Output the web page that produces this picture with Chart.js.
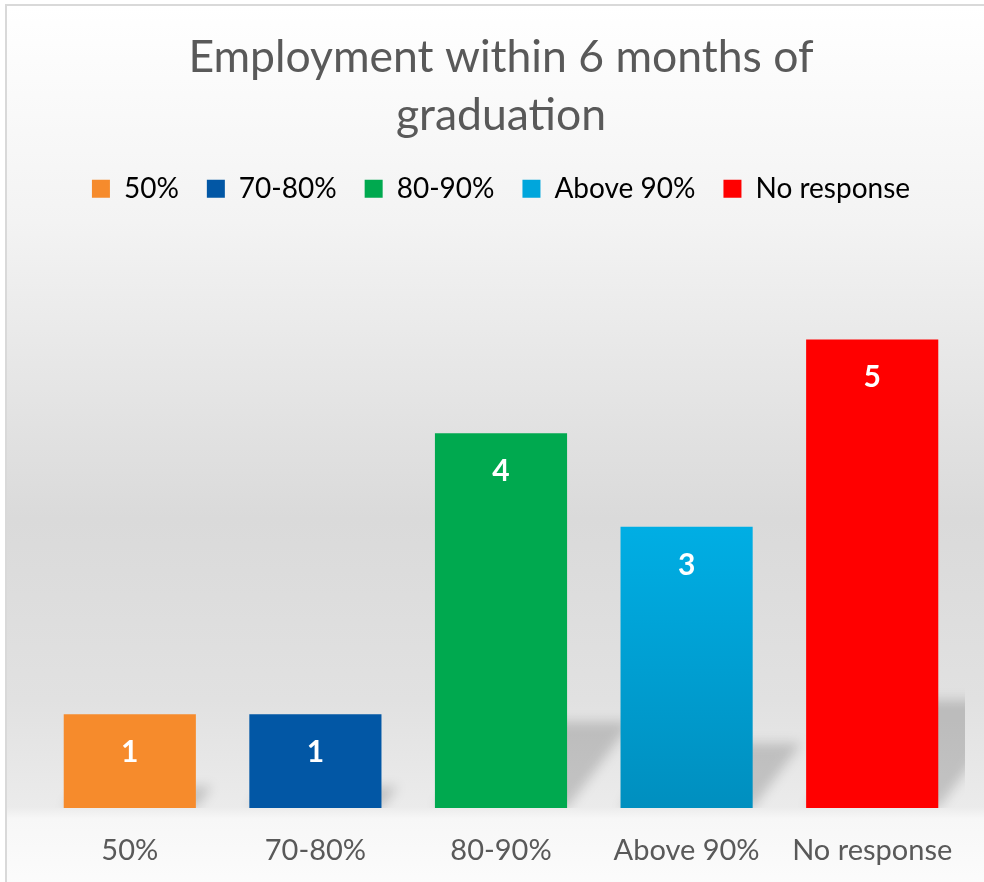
<!DOCTYPE html>
<html>
<head>
<meta charset="utf-8">
<script src="https://cdn.jsdelivr.net/npm/chart.js@4/dist/chart.umd.min.js"></script>
<style>
  html, body { margin: 0; padding: 0; background: #ffffff; }
  #frame {
    position: absolute; left: 5px; top: 4px; width: 1000px; height: 900px;
    border-left: 2px solid #d9d9d9; border-top: 2px solid #d9d9d9;
    background: linear-gradient(to bottom, #ffffff 0%, #f3f3f3 24%, #dadada 57%, #e1e1e1 77%, #ebebeb 89%, #f7f7f7 90.3%, #fdfdfd 100%);
  }
  #wrap { position: absolute; left: 0; top: 0; width: 984px; height: 882px; }
</style>
</head>
<body>
<div id="frame"></div>
<div id="wrap"><canvas id="chart" width="984" height="882"></canvas></div>
<script>
var categories = ["50%", "70-80%", "80-90%", "Above 90%", "No response"];
var counts = [1, 1, 4, 3, 5];
var barColors = ["#f68b2c", "#0257a5", "#00a94f", "#00a6dc", "#ff0000"];
var titleLines = ["Employment within 6 months of", "graduation"];

var FONT = "Lato, 'Open Sans', sans-serif";
var GREY = "#595959";

// Excel-style perspective shadow behind each bar
var shadowPlugin = {
  id: "barShadow",
  beforeDatasetsDraw: function (chart) {
    var ctx = chart.ctx;
    var area = chart.chartArea;
    var bars = chart.getDatasetMeta(0).data;
    ctx.save();
    ctx.beginPath();
    ctx.rect(area.left, area.top, area.right - area.left, area.bottom - area.top);
    ctx.clip();
    ctx.filter = "blur(6px)";
    ctx.fillStyle = "rgba(0,0,0,0.17)";
    bars.forEach(function (b) {
      var p = b.getProps(["x", "y", "base", "width"], true);
      var h = p.base - p.y;
      var sh = h * 0.23;
      var dx = sh * 0.75;
      var l = p.x - p.width / 2, r = p.x + p.width / 2;
      ctx.beginPath();
      ctx.moveTo(l, p.base);
      ctx.lineTo(r, p.base);
      ctx.lineTo(r + dx, p.base - sh);
      ctx.lineTo(l + dx, p.base - sh);
      ctx.closePath();
      ctx.fill();
    });
    ctx.restore();
  },
};

var valueLabels = {
  id: "valueLabels",
  afterDatasetsDraw: function (chart) {
    var ctx = chart.ctx;
    var bars = chart.getDatasetMeta(0).data;
    ctx.save();
    ctx.fillStyle = "#ffffff";
    ctx.font = "bold 30px " + FONT;
    ctx.textAlign = "center";
    ctx.textBaseline = "middle";
    bars.forEach(function (b, i) {
      ctx.fillText(String(counts[i]), b.x, b.y + 38);
    });
    ctx.restore();
  },
};

var legendGap = {
  id: "legendGap",
  beforeInit: function (chart) {
    var fit = chart.legend.fit;
    chart.legend.fit = function () {
      fit.bind(chart.legend)();
      this.height += 33;
    };
  },
};

function barFill(c) {
  var i = c.dataIndex;
  if (i !== 3 || !c.chart.chartArea) return barColors[i];
  var y = c.chart.scales.y;
  var g = c.chart.ctx.createLinearGradient(0, y.getPixelForValue(counts[i]), 0, y.getPixelForValue(0));
  g.addColorStop(0, "#00aee4");
  g.addColorStop(1, "#008fbf");
  return g;
}

new Chart(document.getElementById("chart").getContext("2d"), {
  type: "bar",
  data: {
    labels: categories,
    datasets: [
      {
        data: counts,
        backgroundColor: barFill,
        borderWidth: 0,
        barPercentage: 0.712,
        categoryPercentage: 1,
      },
    ],
  },
  options: {
    responsive: false,
    animation: false,
    devicePixelRatio: 1,
    layout: { padding: { left: 37, right: 19, top: 0, bottom: 0 } },
    plugins: {
      title: {
        display: true,
        text: titleLines,
        color: GREY,
        font: { family: FONT, size: 44.5, weight: "normal", lineHeight: 1.3 },
        padding: { top: 29, bottom: 2 },
      },
      legend: {
        display: true,
        labels: {
          color: GREY,
          font: { family: FONT, size: 28 },
          boxWidth: 18,
          boxHeight: 18,
          padding: 28,
          generateLabels: function () {
            return categories.map(function (c, i) {
              return { text: c, fillStyle: barColors[i], strokeStyle: barColors[i], lineWidth: 0, index: i };
            });
          },
        },
      },
      tooltip: { enabled: false },
    },
    scales: {
      x: {
        grid: { display: false, drawTicks: false },
        border: { display: false },
        ticks: { color: GREY, font: { family: FONT, size: 29 }, padding: 25 },
        afterFit: function (scale) {
          scale.height = 74;
        },
      },
      y: {
        display: false,
        min: 0,
        max: 6,
      },
    },
  },
  plugins: [shadowPlugin, valueLabels, legendGap],
});
</script>
</body>
</html>
